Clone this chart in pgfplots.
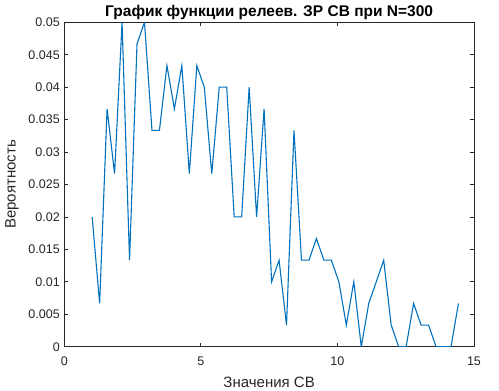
\documentclass[border=0pt]{standalone}
\usepackage{fontspec}
\setmainfont{Liberation Sans}
\usepackage{pgfplots}
\pgfplotsset{compat=1.18}
\definecolor{mblue}{rgb}{0,0.447,0.741}
\definecolor{mgray}{rgb}{0.15,0.15,0.15}
\begin{document}
\begin{tikzpicture}
\useasboundingbox (-64.3pt,-44.3pt) rectangle (434.7pt,346.7pt);
\begin{axis}[
  at={(0pt,0pt)}, anchor=south west,
  scale only axis, width=409.7pt, height=324.4pt,
  xmin=0, xmax=15, ymin=0, ymax=0.05,
  xtick={0,5,10,15},
  ytick={0,0.005,0.01,0.015,0.02,0.025,0.03,0.035,0.04,0.045,0.05},
  scaled y ticks=false,
  yticklabel style={/pgf/number format/fixed,/pgf/number format/precision=3, xshift=-1pt},
  xticklabel style={yshift=-7pt},
  /pgf/number format/assume math mode=true,
  tick align=inside,
  major tick length=4pt,
  axis line style={mgray, line width=0.8pt},
  every tick/.style={mgray, line width=0.8pt},
  tick label style={font=\fontsize{12.5}{14}\selectfont, text=mgray},
  xlabel={Значения СВ}, ylabel={Вероятность},
  label style={font=\fontsize{15}{17}\selectfont, text=mgray},
  xlabel style={at={(axis description cs:0.5,0)}, anchor=base, yshift=-40.6pt},
  ylabel style={at={(axis description cs:-0.1277,0.5)}, anchor=center, rotate=0},
  every axis title shift=0pt,
  title={График функции релеев. ЗР СВ при N=300},
  title style={font=\bfseries\fontsize{15.5}{18}\selectfont, at={(axis description cs:0.5,1)}, anchor=base, yshift=5.6pt},
]
\addplot[mblue, line width=1.1pt] table[x=x, y=y] {
x y
1.020 0.020000
1.294 0.006667
1.567 0.036667
1.841 0.026667
2.115 0.050000
2.389 0.013333
2.662 0.046667
2.936 0.050000
3.210 0.033333
3.483 0.033333
3.757 0.043333
4.031 0.036667
4.304 0.043333
4.578 0.026667
4.852 0.043333
5.126 0.040000
5.399 0.026667
5.673 0.040000
5.947 0.040000
6.220 0.020000
6.494 0.020000
6.768 0.040000
7.041 0.020000
7.315 0.036667
7.589 0.010000
7.863 0.013333
8.136 0.003333
8.410 0.033333
8.684 0.013333
8.957 0.013333
9.231 0.016667
9.505 0.013333
9.778 0.013333
10.052 0.010000
10.326 0.003333
10.600 0.010000
10.873 0.000000
11.147 0.006667
11.421 0.010000
11.694 0.013333
11.968 0.003333
12.242 0.000000
12.515 0.000000
12.789 0.006667
13.063 0.003333
13.337 0.003333
13.610 0.000000
13.884 0.000000
14.158 0.000000
14.431 0.006667
};
\end{axis}
\end{tikzpicture}
\end{document}
